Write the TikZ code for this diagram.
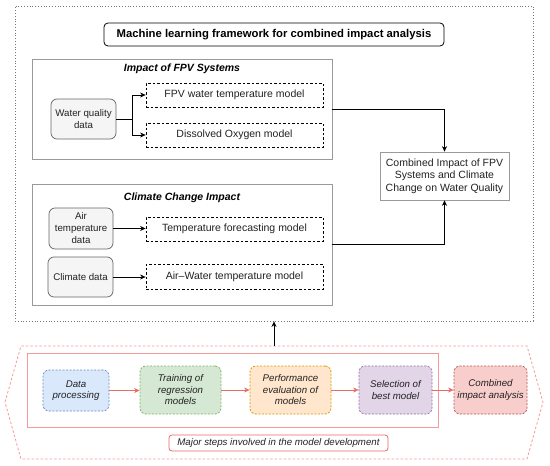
\documentclass[tikz,border=0pt]{standalone}
\usepackage{fontspec}
\setmainfont{Liberation Sans}
\usetikzlibrary{arrows.meta}
\definecolor{outerc}{HTML}{777777}
\definecolor{grpc}{HTML}{9A9A9A}
\definecolor{datad}{HTML}{666666}
\definecolor{dataf}{HTML}{F5F5F5}
\definecolor{txt}{HTML}{222222}
\definecolor{redl}{HTML}{EA6B66}
\definecolor{hexc}{HTML}{F59A9A}
\definecolor{bluef}{HTML}{DAE8FC}\definecolor{blued}{HTML}{6C8EBF}
\definecolor{greenf}{HTML}{D5E8D4}\definecolor{greend}{HTML}{82B366}
\definecolor{orangef}{HTML}{FFE6CC}\definecolor{oranged}{HTML}{D79B00}
\definecolor{purplef}{HTML}{E1D5E7}\definecolor{purpled}{HTML}{9673A6}
\definecolor{redf}{HTML}{F8CECC}\definecolor{redd}{HTML}{B85450}
\begin{document}
\begin{tikzpicture}[x=1pt,y=-1pt,
  box/.style={inner sep=0pt, align=center, text=txt, font=\fontsize{10.5}{12.5}\selectfont},
  model/.style={box, draw=black, dash pattern=on 2.5pt off 2pt, line width=0.8pt},
  datab/.style={box, draw=datad, fill=dataf, rounded corners=6pt, line width=0.7pt, font=\fontsize{9.7}{12}\selectfont},
  grp/.style={draw=grpc, line width=0.7pt, inner sep=0pt},
  grptitle/.style={font=\fontsize{10.5}{12}\selectfont\bfseries\itshape, text=black, inner sep=0pt},
  stepnode/.style={inner sep=0pt, align=center, text=txt, dash pattern=on 2pt off 1.5pt, line width=0.8pt, rounded corners=6pt, font=\fontsize{9.7}{11.5}\selectfont\itshape},
  arr/.style={-{Stealth[length=5.5pt,width=5pt]}, line width=0.7pt, draw=black},
  rarr/.style={-{Stealth[length=5.5pt,width=5pt]}, line width=0.7pt, draw=redl}
]
\useasboundingbox (0,0) rectangle (550,466);
\fill[white] (0,0) rectangle (550,466);

% outer frame
\node[draw=outerc, dotted, line width=0.8pt, minimum width=518pt, minimum height=315pt, inner sep=0pt] (outer) at (274,163.5) {};
\node[box, draw=black, line width=0.8pt, rounded corners=4pt, minimum width=340pt, minimum height=23pt, font=\fontsize{11.3}{13}\selectfont\bfseries, text=black] (title) at (274,34.5) {Machine learning framework for combined impact analysis};

% FPV group
\node[grp, minimum width=300pt, minimum height=100pt] (fpvgrp) at (182,109) {};
\node[grptitle] (fpvtitle) at (182,69) {Impact of FPV Systems};
\node[datab, minimum width=65pt, minimum height=40pt] (wq) at (83.5,119) {Water quality\\data};
\node[model, minimum width=177pt, minimum height=24pt] (fpvtemp) at (234.5,95) {FPV water temperature model};
\node[model, minimum width=177pt, minimum height=24pt] (do) at (234.5,135) {Dissolved Oxygen model};

% Climate group
\node[grp, minimum width=300pt, minimum height=121pt] (climgrp) at (182,244.5) {};
\node[grptitle] (climtitle) at (182,198) {Climate Change Impact};
\node[datab, minimum width=64pt, minimum height=41pt] (air) at (81,228.5) {Air\\temperature\\data};
\node[model, minimum width=177pt, minimum height=24pt] (tf) at (234.5,229) {Temperature forecasting model};
\node[datab, minimum width=65pt, minimum height=40pt] (clim) at (80.5,277) {Climate data};
\node[model, minimum width=177pt, minimum height=25pt] (aw) at (234.5,276.5) {Air--Water temperature model};

% combined
\node[box, draw=grpc, line width=0.7pt, minimum width=129pt, minimum height=48pt] (comb) at (444.5,176) {Combined Impact of FPV\\Systems and Climate\\Change on Water Quality};

% connectors top
\coordinate (branch) at (132,119);
\draw[line width=0.7pt] (wq.east) -- (branch);
\draw[arr] (branch) |- (fpvtemp.west);
\draw[arr] (branch) |- (do.west);
\draw[arr] (fpvgrp.east) -| (comb.north);
\draw[arr] (climgrp.east) -| (comb.south);
\draw[arr] (air.east) -- (air.east -| tf.west);
\draw[arr] (clim.east) -- (clim.east -| aw.west);

% bottom part
\draw[hexc, dash pattern=on 2.5pt off 2pt, line width=0.8pt] (5,402) -- (21,346) -- (527,346) -- (543,402) -- (527,459) -- (21,459) -- cycle;
\coordinate (hextop) at (274,346);
\node[draw=hexc, line width=0.8pt, minimum width=411pt, minimum height=74pt, inner sep=0pt] (inner) at (232.5,390) {};
\node[stepnode, draw=blued, fill=bluef, minimum width=66pt, minimum height=41pt] (dp) at (76,390.5) {Data\\processing};
\node[stepnode, draw=greend, fill=greenf, minimum width=81pt, minimum height=48pt] (tr) at (180.5,390) {Training of\\regression\\models};
\node[stepnode, draw=oranged, fill=orangef, minimum width=81pt, minimum height=48pt] (pe) at (290.5,390) {Performance\\evaluation of\\models};
\node[stepnode, draw=purpled, fill=purplef, minimum width=73pt, minimum height=48pt] (sel) at (395.5,390) {Selection of\\best model};
\node[stepnode, draw=redd, fill=redf, minimum width=73pt, minimum height=48pt] (cia) at (490.5,390) {Combined\\impact analysis};
\node[box, draw=redl, line width=0.8pt, rounded corners=3pt, minimum width=219pt, minimum height=16pt, font=\fontsize{9.7}{11}\selectfont\itshape] (major) at (278.5,443) {Major steps involved in the model development};

\draw[rarr] (dp.east) -- (dp.east -| tr.west);
\draw[rarr] (tr.east) -- (pe.west);
\draw[rarr] (pe.east) -- (sel.west);
\draw[rarr] (sel.east) -- (cia.west);
\draw[arr, line width=0.9pt] (hextop) -- (hextop |- outer.south);
\end{tikzpicture}
\end{document}
